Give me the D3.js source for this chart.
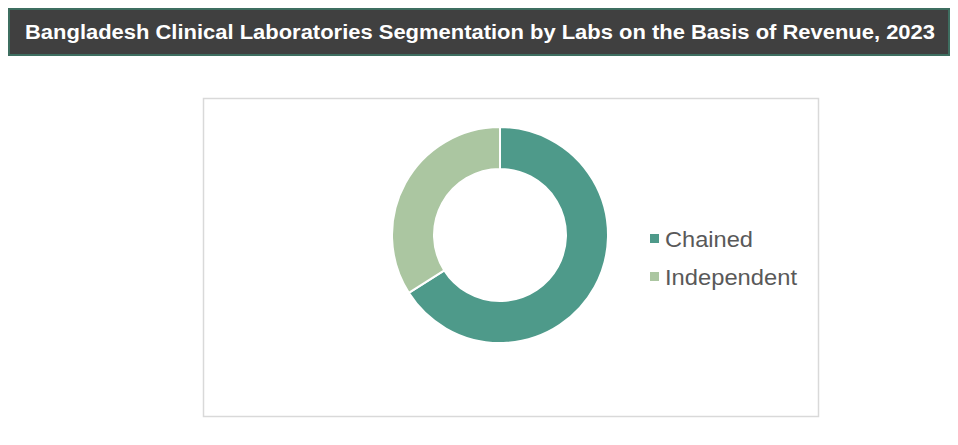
<!DOCTYPE html>
<html><head><meta charset="utf-8">
<script src="https://cdn.jsdelivr.net/npm/d3@7"></script>
<style>body{margin:0;background:#fff}</style></head>
<body><svg id="c" width="958" height="445"></svg>
<script>
const title = "Bangladesh Clinical Laboratories Segmentation by Labs on the Basis of Revenue, 2023";
const categories = ["Chained", "Independent"];
const values = [66, 34];
const colors = ["#4e9a8a", "#abc6a1"];

const svg = d3.select("#c");
svg.append("rect").attr("x",9).attr("y",9).attr("width",940).attr("height",46)
  .attr("fill","#404040").attr("stroke","#3e6e60").attr("stroke-width",2);
svg.append("text").attr("x",480).attr("y",39).attr("text-anchor","middle")
  .attr("fill","#fff").attr("font-family","Liberation Sans, Arial, sans-serif")
  .attr("font-weight","bold").attr("font-size",19.5).attr("textLength",910).attr("lengthAdjust","spacingAndGlyphs").text(title);

svg.append("rect").attr("x",203.5).attr("y",98.5).attr("width",615).attr("height",318)
  .attr("fill","#fff").attr("stroke","#d9d9d9").attr("stroke-width",1.5);

const pie = d3.pie().sort(null).value(d=>d)(values);
const arc = d3.arc().innerRadius(66).outerRadius(108);
const g = svg.append("g").attr("transform","translate(500,235)");
g.selectAll("path").data(pie).join("path").attr("d",arc)
  .attr("fill",(d,i)=>colors[i]).attr("stroke","#fff").attr("stroke-width",2);

const lg = svg.append("g");
const widths = [88, 132];
categories.forEach((c,i)=>{
  const y = 240 + i*38;
  lg.append("rect").attr("x",650).attr("y",y-6).attr("width",9).attr("height",9).attr("fill",colors[i]);
  lg.append("text").attr("x",665).attr("y",y+7).attr("fill","#595959")
    .attr("font-family","Liberation Sans, Arial, sans-serif").attr("font-size",22.5)
    .attr("textLength",widths[i]).attr("lengthAdjust","spacingAndGlyphs").text(c);
});
</script></body></html>
